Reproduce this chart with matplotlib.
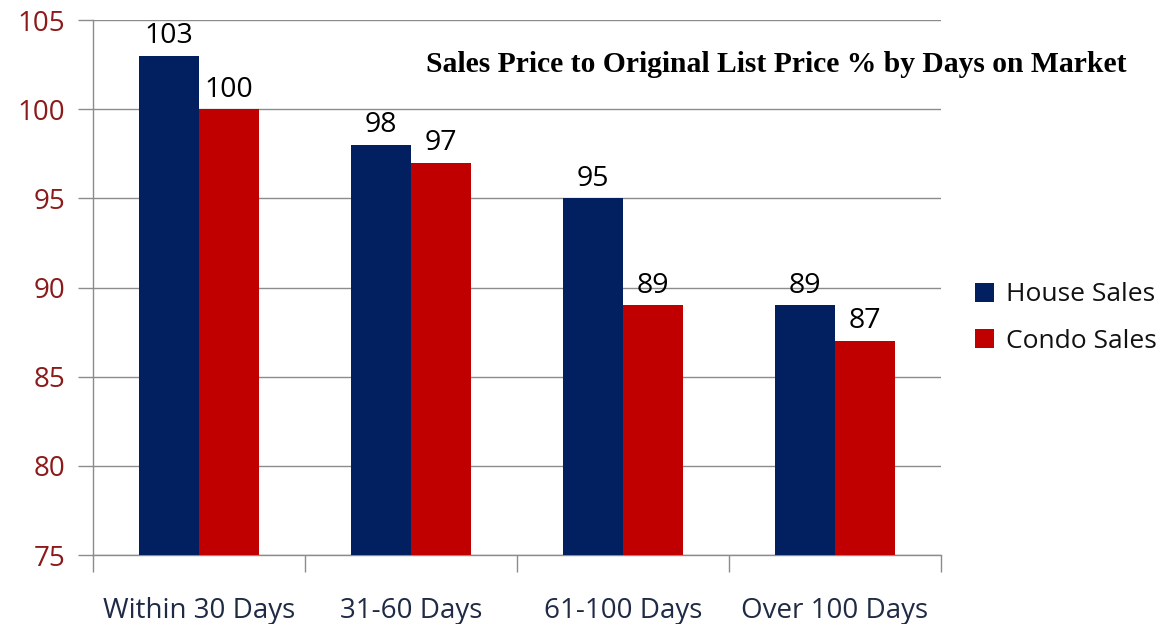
import matplotlib
matplotlib.use("Agg")
import matplotlib.pyplot as plt
import numpy as np

categories = ["Within 30 Days", "31-60 Days", "61-100 Days", "Over 100 Days"]
house_sales = [103, 98, 95, 89]
condo_sales = [100, 97, 89, 87]
series_names = ["House Sales", "Condo Sales"]
y_ticks = [75, 80, 85, 90, 95, 100, 105]
title = "Sales Price to Original List Price % by Days on Market"

navy = "#022060"
red = "#C00000"
grid_c = "#8c8c8c"
tick_red = "#8B1A1A"
xlab_c = "#1F2A44"

plt.rcParams['font.family'] = ['Open Sans', 'DejaVu Sans']

fig = plt.figure(figsize=(11.66, 6.24), dpi=100)
ax = fig.add_axes([93/1166, 1-555/624, (941-93)/1166, (555-20)/624])

x = np.arange(len(categories))
w = 0.283
b1 = ax.bar(x - w/2, [v - 75 for v in house_sales], w, bottom=75, color=navy, label=series_names[0], zorder=3)
b2 = ax.bar(x + w/2, [v - 75 for v in condo_sales], w, bottom=75, color=red, label=series_names[1], zorder=3)

for bars, vals in ((b1, house_sales), (b2, condo_sales)):
    for r, v in zip(bars, vals):
        ax.annotate(str(v), (r.get_x() + r.get_width()/2, v), xytext=(0, 4),
                    textcoords="offset points", ha="center", va="bottom",
                    fontsize=20.5, color="black")

ax.set_xlim(-0.5, len(categories) - 0.5)
ax.set_ylim(75, 105)
ax.set_yticks(y_ticks)
ax.set_yticklabels([str(t) for t in y_ticks], color=tick_red, fontsize=20)
ax.set_xticks(np.arange(len(categories) + 1) - 0.5, minor=False)
ax.set_xticklabels([])
ax.set_xticks(x, minor=True)
ax.set_xticklabels(categories, minor=True, color=xlab_c, fontsize=20)
ax.tick_params(axis='x', which='minor', length=0, pad=30)
ax.tick_params(axis='x', which='major', length=12, color=grid_c, width=1)
ax.tick_params(axis='y', length=11, color=grid_c, width=1, pad=9)

ax.yaxis.grid(True, color=grid_c, linewidth=1, zorder=0)
ax.set_axisbelow(True)
for s in ("top", "right"):
    ax.spines[s].set_visible(False)
for s in ("left", "bottom"):
    ax.spines[s].set_color(grid_c)
    ax.spines[s].set_linewidth(1)

fig.text(1127/1166, 1-64/624, title, ha="right", va="center",
         fontfamily="Liberation Serif", fontweight="bold", fontsize=21.3)

leg = fig.legend(handles=[b1, b2], labels=series_names, loc="center left",
                 bbox_to_anchor=(964/1166, 1-318/624), frameon=False,
                 fontsize=19, handlelength=0.75, handleheight=0.75,
                 handletextpad=0.45, labelspacing=0.8, borderaxespad=0)
for t in leg.get_texts():
    t.set_color("#111111")

fig.savefig("out.png", dpi=100)
